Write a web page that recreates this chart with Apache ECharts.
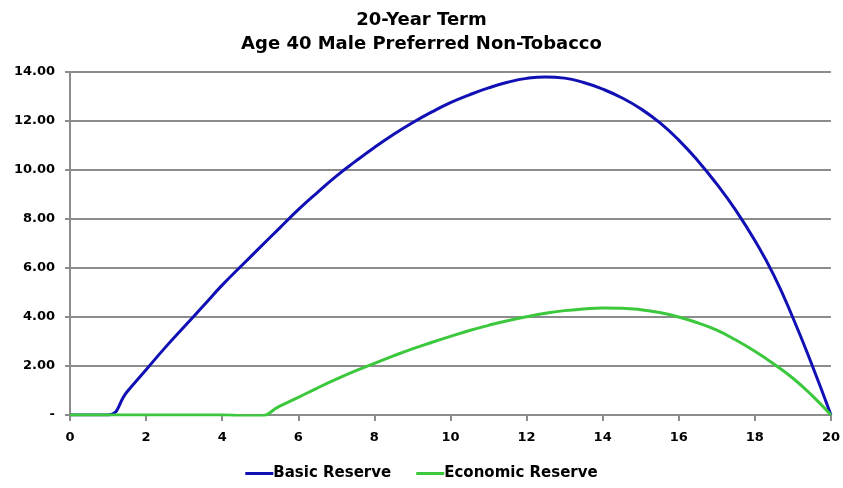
<!DOCTYPE html>
<html>
<head>
<meta charset="utf-8">
<script src="https://cdn.jsdelivr.net/npm/echarts@6/dist/echarts.min.js"></script>
<style>
  html, body { margin: 0; padding: 0; background: #fff; }
  #chart { width: 843px; height: 488px; }
</style>
</head>
<body>
<div id="chart"></div>
<script>
// Policy year (x) and reserve per 1000 (y), sampled every half year
var years = [0, 0.5, 1, 1.5, 2, 2.5, 3, 3.5, 4, 4.5, 5, 5.5, 6, 6.5, 7, 7.5, 8, 8.5, 9, 9.5, 10,
             10.5, 11, 11.5, 12, 12.5, 13, 13.5, 14, 14.5, 15, 15.5, 16, 16.5, 17, 17.5, 18, 18.5, 19, 19.5, 20];
var basicReserve = [0, 0, 0, 0.95, 1.85, 2.75, 3.6, 4.45, 5.3, 6.08, 6.85, 7.62, 8.38, 9.08, 9.75, 10.35, 10.92, 11.45, 11.93, 12.36, 12.75,
                    13.07, 13.35, 13.58, 13.74, 13.8, 13.75, 13.57, 13.3, 12.95, 12.5, 11.93, 11.22, 10.38, 9.42, 8.35, 7.12, 5.7, 3.97, 2.05, 0];
var economicReserve = [0, 0, 0, 0, 0, 0, 0, 0, 0, -0.03, -0.03, 0.35, 0.72, 1.1, 1.46, 1.8, 2.11, 2.41, 2.7, 2.96, 3.21,
                       3.45, 3.66, 3.85, 4.01, 4.15, 4.26, 4.33, 4.37, 4.36, 4.3, 4.18, 4.0, 3.76, 3.46, 3.06, 2.6, 2.08, 1.5, 0.8, 0];
var seriesNames = ['Basic Reserve', 'Economic Reserve'];
var titleLines = ['20-Year Term', 'Age 40 Male Preferred Non-Tobacco'];

function pairs(xs, ys) {
  return xs.map(function (x, i) { return [x, ys[i]]; });
}

var font = 'DejaVu Sans, Liberation Sans, Arial, sans-serif';
var chart = echarts.init(document.getElementById('chart'), null, { renderer: 'canvas' });

chart.setOption({
  animation: false,
  backgroundColor: '#ffffff',
  title: {
    text: titleLines.join('\n'),
    left: 'center',
    top: 3,
    textStyle: { fontFamily: font, fontWeight: 'bold', fontSize: 18, lineHeight: 24, color: '#000' }
  },
  legend: {
    bottom: 2,
    left: 'center',
    itemWidth: 28,
    itemHeight: 3,
    itemGap: 25,
    icon: 'rect',
    textStyle: { fontFamily: font, fontWeight: 'bold', fontSize: 15, color: '#000', padding: [0, 0, 0, -5] },
    data: seriesNames
  },
  grid: { left: 70, right: 11, top: 72, bottom: 73, containLabel: false },
  xAxis: {
    type: 'value',
    min: 0,
    max: 20,
    interval: 2,
    axisLine: { show: true, lineStyle: { color: '#8c8c8c', width: 2 } },
    axisTick: { show: true, length: 6, lineStyle: { color: '#8c8c8c', width: 2 } },
    axisLabel: { margin: 16, fontFamily: font, fontWeight: 'bold', fontSize: 13, color: '#000' },
    splitLine: { show: false }
  },
  yAxis: {
    type: 'value',
    min: 0,
    max: 14,
    interval: 2,
    axisLine: { show: true, lineStyle: { color: '#8c8c8c', width: 2 } },
    axisTick: { show: true, length: 5, lineStyle: { color: '#8c8c8c', width: 2 } },
    axisLabel: {
      margin: 15,
      fontFamily: font, fontWeight: 'bold', fontSize: 13, color: '#000',
      formatter: function (v) { return v === 0 ? '-' : v.toFixed(2); }
    },
    splitLine: { show: true, lineStyle: { color: '#8c8c8c', width: 2 } }
  },
  series: [
    {
      name: seriesNames[0],
      type: 'line',
      smooth: 0.5,
      showSymbol: false,
      symbol: 'none',
      color: '#1010b4',
      lineStyle: { width: 3, color: '#1010b4' },
      data: pairs(years, basicReserve),
      z: 2
    },
    {
      name: seriesNames[1],
      type: 'line',
      smooth: 0.5,
      showSymbol: false,
      symbol: 'none',
      color: '#3cc83c',
      lineStyle: { width: 3, color: '#3cc83c' },
      data: pairs(years, economicReserve),
      z: 3
    }
  ]
});
</script>
</body>
</html>
